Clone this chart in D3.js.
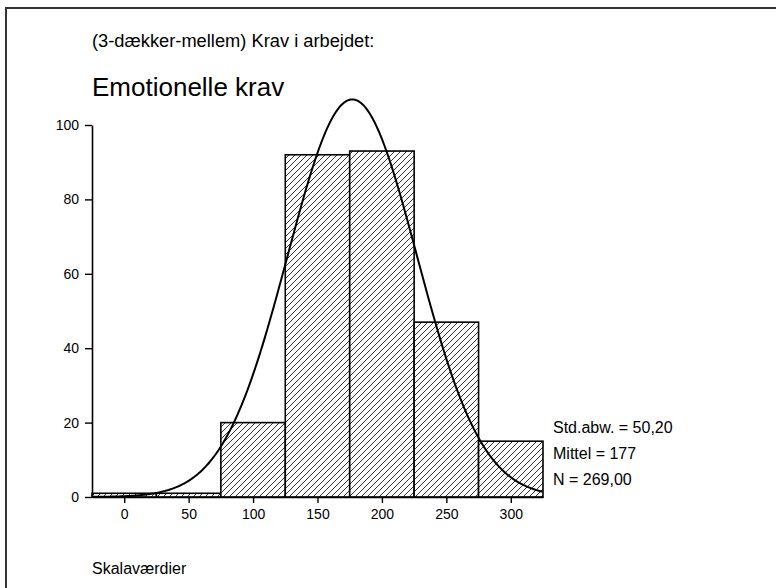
<!DOCTYPE html>
<html>
<head>
<meta charset="utf-8">
<script src="https://cdn.jsdelivr.net/npm/d3@7"></script>
<style>
  html, body { margin: 0; padding: 0; background: #fff; }
  svg { display: block; }
  text { font-family: "Liberation Sans", Arial, Helvetica, sans-serif; fill: #000; }
</style>
</head>
<body>
<svg id="chart" width="776" height="588"></svg>
<script>
// ---- data ----
const binStarts = [-25, 25, 75, 125, 175, 225, 275];
const binEnds   = [25, 75, 125, 175, 225, 275, 325];
const counts    = [1, 1, 20, 92, 93, 47, 15];
const xTicks = [0, 50, 100, 150, 200, 250, 300];
const yTicks = [0, 20, 40, 60, 80, 100];
const statMean = 177;
const statSd = 50.20;
const statN = 269;
const statLabels = ["Std.abw. = 50,20", "Mittel = 177", "N = 269,00"];
const titleTop = "(3-dækker-mellem) Krav i arbejdet:";
const titleMain = "Emotionelle krav";
const xLabel = "Skalaværdier";

const svg = d3.select("#chart");

// frame (top and left edges visible)
svg.append("path").attr("d", "M6,588 L6,8 L776,8")
  .attr("fill", "none").attr("stroke", "#333").attr("stroke-width", 2);

// hatch pattern
const defs = svg.append("defs");
const pat = defs.append("pattern").attr("id", "hatch").attr("patternUnits", "userSpaceOnUse")
  .attr("width", 6).attr("height", 6);
pat.append("rect").attr("width", 6).attr("height", 6).attr("fill", "#fff");
pat.append("path").attr("d", "M-1,1 L1,-1 M0,6 L6,0 M5,7 L7,5")
  .attr("stroke", "#000").attr("stroke-width", 0.8);

const x = d3.scaleLinear().domain([-25, 325]).range([92, 543]);
const y = d3.scaleLinear().domain([0, 100]).range([497, 125]);

// bars
const bins = binStarts.map((s, i) => ({ s, e: binEnds[i], c: counts[i] }));
svg.append("g").selectAll("rect").data(bins).join("rect")
  .attr("x", d => x(d.s))
  .attr("y", d => y(d.c))
  .attr("width", d => x(d.e) - x(d.s))
  .attr("height", d => y(0) - y(d.c))
  .attr("fill", "url(#hatch)")
  .attr("stroke", "#000")
  .attr("stroke-width", 1.6);

// normal curve from the stated statistics
const binW = binEnds[0] - binStarts[0];
const pts = d3.range(-25, 325.01, 1).map(v => [v,
  statN * binW * Math.exp(-0.5 * Math.pow((v - statMean) / statSd, 2)) / (statSd * Math.sqrt(2 * Math.PI))]);
svg.append("path").datum(pts)
  .attr("d", d3.line().x(d => x(d[0])).y(d => y(d[1])))
  .attr("fill", "none").attr("stroke", "#000").attr("stroke-width", 2);

// axes
const yAxis = svg.append("g").attr("transform", `translate(${x(-25)},0)`)
  .call(d3.axisLeft(y).tickValues(yTicks).tickSize(7).tickSizeOuter(0).tickPadding(6));
const xAxis = svg.append("g").attr("transform", `translate(0,${y(0)})`)
  .call(d3.axisBottom(x).tickValues(xTicks).tickSize(6).tickSizeOuter(0).tickPadding(6));
[yAxis, xAxis].forEach(g => {
  g.selectAll("path.domain").attr("stroke", "#000").attr("stroke-width", 1.6);
  g.selectAll(".tick line").attr("stroke", "#000").attr("stroke-width", 1.4);
  g.selectAll(".tick text").attr("font-size", 14).attr("font-family", "Liberation Sans, Arial, sans-serif");
});

// titles
svg.append("text").attr("x", 92).attr("y", 47).attr("font-size", 18.3).text(titleTop);
svg.append("text").attr("x", 92).attr("y", 96).attr("font-size", 26).text(titleMain);
svg.append("text").attr("x", 92).attr("y", 574).attr("font-size", 16).text(xLabel);

// stats
svg.append("g").selectAll("text").data(statLabels).join("text")
  .attr("x", 553).attr("y", (d, i) => 433 + i * 26)
  .attr("font-size", 16).text(d => d);
</script>
</body>
</html>
